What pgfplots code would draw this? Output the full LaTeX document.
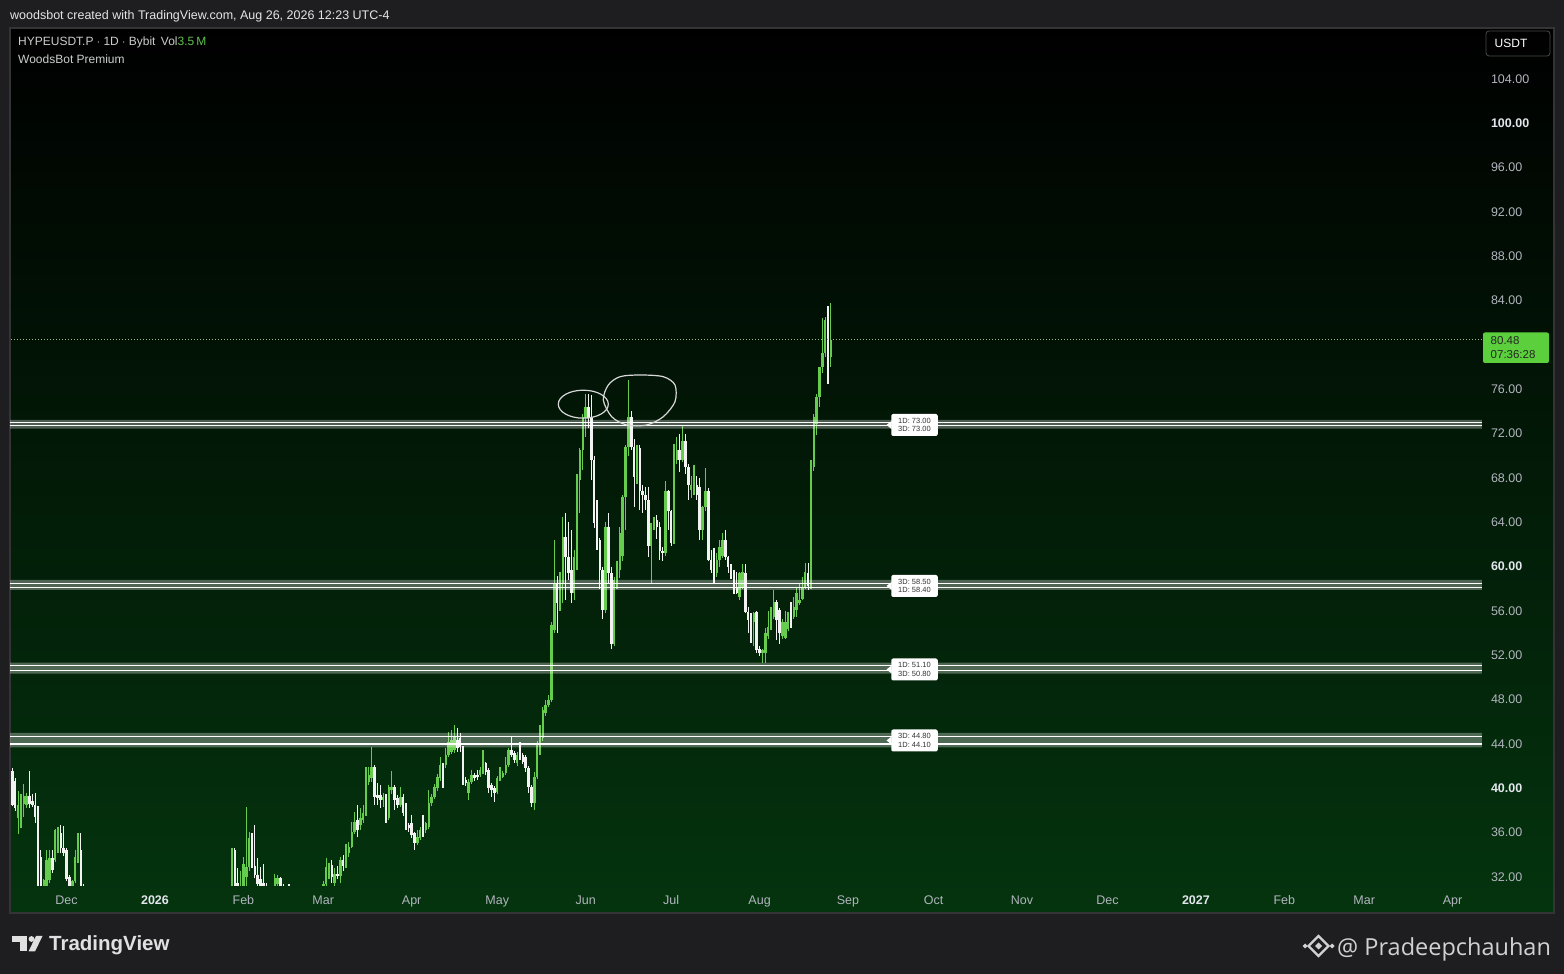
\documentclass[border=0pt]{standalone}
\usepackage{pgfplots}
\pgfplotsset{compat=1.18}
\usepackage{pgfplotstable}
\usepackage{fontspec}
\setmainfont{Liberation Sans}
\newfontfamily\opensans{Open Sans}

\definecolor{pagebg}{HTML}{1E1E20}
\definecolor{panelgreen}{HTML}{04340E}
\definecolor{upc}{HTML}{66CC4E}
\definecolor{downc}{HTML}{F2F2F2}
\definecolor{tickgray}{HTML}{B2B5BE}
\definecolor{tickbright}{HTML}{E3E6EC}
\definecolor{labelgreen}{HTML}{5CD03C}
\definecolor{volgreen}{HTML}{5FC04E}
\definecolor{dotline}{HTML}{8FBF8F}
\definecolor{frame}{HTML}{343436}
\definecolor{pen}{HTML}{D8D8D8}

% daily candles, d = days since 1 Jan 2026
\pgfplotstableread{
d o h l c
-50 41.6 41.8 38.4 38.5
-49 40.7 40.9 38.0 38.2
-48 37.3 39.8 35.9 38.5
-47 37.3 39.5 36.4 38.5
-46 38.6 40.4 37.4 39.3
-45 38.5 39.6 38.2 39.3
-44 39.3 41.6 38.2 38.6
-43 38.9 39.5 38.3 38.5
-42 38.5 39.6 36.9 37.4
-41 38.0 38.4 30.5 30.8
-40 33.8 34.4 30.0 30.5
-39 30.0 31.8 29.5 31.7
-38 30.5 34.4 30.0 33.5
-37 31.7 34.4 31.5 33.7
-36 33.7 34.4 32.4 32.6
-35 33.5 36.3 33.4 36.2
-34 34.4 36.5 34.2 36.2
-33 36.0 36.7 34.2 34.6
-32 34.6 36.6 33.9 34.2
-31 34.4 34.6 31.6 31.8
-30 32.0 32.2 30.5 31.0
-29 30.8 31.7 30.5 31.6
-28 31.6 34.4 31.5 33.8
-27 33.5 36.0 33.3 34.4
-26 34.4 36.0 30.5 31.0
-25 31.2 31.4 30.0 30.5
27 30.0 34.6 29.5 34.4
28 34.4 34.6 30.0 30.5
29 31.5 32.8 30.0 30.5
30 30.0 32.5 29.8 31.0
31 30.5 33.8 30.0 33.2
32 32.0 38.3 31.0 32.9
33 32.9 36.1 32.5 35.5
34 35.5 36.0 32.8 33.0
35 33.0 36.7 31.9 32.2
36 32.2 33.7 31.0 31.4
37 31.8 32.9 30.5 31.0
38 31.5 33.2 30.5 30.8
39 31.0 31.5 30.0 30.5
42 30.8 32.3 30.5 31.9
43 31.4 32.2 31.0 31.9
44 31.9 32.0 30.5 31.0
45 31.0 31.4 30.5 30.8
47 31.2 31.4 30.5 30.8
59 30.8 31.6 30.5 31.4
60 31.4 33.7 31.2 32.9
61 32.5 33.3 31.8 33.1
62 33.1 33.5 31.5 32.0
63 31.5 32.8 31.0 32.3
64 32.3 33.0 31.8 32.1
65 32.1 33.8 31.5 33.5
66 33.5 34.0 32.5 33.0
67 33.0 35.0 32.8 34.1
68 34.13 35.19 33.83 34.74
69 34.74 36.99 34.6 36.09
70 36.09 37.89 35.9 36.99
71 37.14 38.49 35.64 36.24
72 36.69 38.19 36.24 37.29
73 37.14 38.49 36.9 37.74
74 37.74 41.95 37.5 40.90
75 40.60 41.95 40.3 41.20
76 40.90 43.76 40.6 41.95
77 41.95 42.10 38.49 39.25
78 39.4 40.45 38.49 39.1
79 39.4 40.3 38.19 38.95
80 38.95 39.6 38.3 39.25
81 39.25 39.5 36.84 37.29
82 37.29 40.3 37.14 40.15
83 39.85 41.6 39.5 40.15
84 40.15 40.3 38.04 38.95
85 39.1 39.4 38.2 38.49
86 38.49 40.15 38.3 39.25
87 39.25 39.5 37.5 37.74
88 37.74 38.64 36.24 36.69
89 36.69 36.9 36.1 36.39
90 36.84 37.59 35.49 35.79
91 35.94 36.1 34.43 35.04
92 35.04 36.24 34.9 35.64
93 35.49 36.5 35.3 36.24
94 36.84 37.59 35.64 36.24
95 36.24 37.0 36.0 36.84
96 36.54 39.85 36.3 38.64
97 38.64 39.5 38.4 39.25
98 39.25 40.4 39.0 40.15
99 40.00 41.3 39.8 41.05
100 40.90 42.86 40.7 42.10
101 42.10 42.3 40.0 40.75
102 42.10 43.61 41.8 43.01
103 43.01 45.11 42.8 44.21
104 43.31 45.26 43.1 44.36
105 43.46 45.71 43.2 44.66
106 44.36 45.41 43.3 43.61
107 44.51 45.0 43.31 43.76
108 43.61 43.8 40.3 40.45
109 40.75 41.0 40.2 40.45
110 39.55 40.8 38.95 40.60
111 40.60 41.65 40.4 41.20
112 41.20 41.4 40.7 40.90
113 41.20 41.65 40.75 41.05
114 41.20 41.9 41.0 41.65
115 41.50 43.46 41.3 42.31
116 42.25 42.40 41.20 41.50
117 41.65 41.8 39.55 40.00
118 40.30 40.5 39.25 39.85
119 40.00 40.2 38.80 39.55
120 39.70 41.1 39.5 40.90
121 40.90 41.95 40.7 41.20
122 41.05 41.6 40.9 41.35
123 41.35 42.86 41.2 42.10
124 42.10 43.61 41.9 43.46
125 43.46 44.66 42.8 43.01
126 43.16 43.4 42.3 42.55
127 42.25 43.3 42.0 43.01
128 43.46 44.21 42.6 42.86
129 43.01 43.2 42.2 42.40
130 42.86 43.0 41.5 41.80
131 41.80 42.0 39.55 40.15
132 40.15 40.3 38.34 38.64
133 38.64 41.5 38.04 41.05
134 41.05 44.3 40.8 44.06
135 43.5 45.71 43.0 44.51
136 44.51 47.3 44.3 47.07
137 46.77 48.0 46.5 47.52
138 47.52 48.4 47.3 48.0
139 48.0 55.0 47.8 54.7
140 54.3 62.4 54.0 58.5
141 58.5 59.2 54.0 56.7
142 56.7 59.5 56.0 58.5
143 58.5 64.5 56.7 62.7
144 62.7 64.8 57.0 60.9
145 60.9 64.0 58.8 59.4
146 59.7 63.3 56.7 57.6
147 57.6 61.5 57.0 60.9
148 60.9 68.4 59.7 68.1
149 67.8 70.7 64.8 70.5
150 70.5 73.8 68.7 73.5
151 73.4 75.6 71.7 74.4
152 74.4 75.6 72.5 73.4
153 73.4 75.5 67.8 69.6
154 69.6 70.0 63.5 63.9
155 63.9 66.0 61.5 62.4
156 62.4 62.6 58.0 59.7
157 59.7 60.0 55.3 56.1
158 56.1 64.0 55.8 63.6
159 63.6 64.8 58.5 59.4
160 59.4 60.0 52.6 53.0
161 53.0 59.1 52.8 58.8
162 58.8 60.5 58.0 59.7
163 59.7 63.6 59.0 63.0
164 61.0 66.5 60.5 66.3
165 66.3 71.0 63.3 70.8
166 70.8 76.8 70.0 73.5
167 73.5 74.0 70.5 70.8
168 70.8 71.5 65.4 68.1
169 68.1 71.0 67.5 70.7
170 70.7 71.0 65.1 66.8
171 66.8 67.4 64.8 66.5
172 66.5 67.2 65.1 66.0
173 66.0 67.2 60.9 61.9
174 61.9 63.9 58.5 63.9
175 63.6 64.5 63.3 64.2
176 64.2 64.7 62.5 63.6
177 63.6 64.0 60.6 61.4
178 61.4 61.8 60.5 61.2
179 61.2 67.7 61.0 66.8
180 66.8 66.9 63.3 65.0
181 65.0 65.1 61.9 62.1
182 62.1 71.1 62.0 70.2
183 69.6 71.7 69.3 70.5
184 70.5 72.0 68.5 69.6
185 69.6 72.8 69.4 71.3
186 71.3 72.0 68.4 69.0
187 69.0 69.3 66.0 67.4
188 66.9 68.2 66.2 67.4
189 66.8 69.2 66.5 67.4
190 67.4 68.2 66.0 66.5
191 67.2 68.0 62.4 63.3
192 63.3 65.5 62.4 65.4
193 65.4 68.9 65.0 66.8
194 66.8 67.1 60.5 60.6
195 60.6 61.5 59.4 59.7
196 59.7 61.7 58.5 59.4
197 59.4 61.2 59.1 60.6
198 60.6 62.4 60.0 61.8
199 61.0 63.0 60.8 62.4
200 62.4 63.3 60.6 60.9
201 60.9 61.0 59.4 60.0
202 60.0 60.2 58.9 59.3
203 59.3 59.7 57.5 57.6
204 58.2 59.5 57.5 57.6
205 57.3 59.5 57.0 59.4
206 58.2 60.2 58.0 59.5
207 59.4 60.2 55.8 55.9
208 55.9 56.4 54.0 55.2
209 55.5 55.8 53.1 55.1
210 55.0 55.9 52.8 55.8
211 55.9 56.0 52.2 52.5
212 52.6 52.8 51.9 52.2
213 52.2 52.6 51.3 52.5
214 52.2 54.5 51.3 54.0
215 53.7 56.0 53.5 54.6
216 54.6 56.4 54.3 55.5
217 55.5 57.9 55.3 56.8
218 56.8 57.0 53.4 55.2
219 56.1 56.3 53.0 54.0
220 53.7 55.3 53.5 55.0
221 53.6 56.0 53.5 55.0
222 54.4 55.9 54.2 55.9
223 55.9 56.8 54.5 54.7
224 55.5 57.3 55.3 56.4
225 56.1 58.2 55.5 57.6
226 56.7 58.5 56.5 57.0
227 57.1 59.1 57.0 58.2
228 58.2 60.3 58.0 59.5
229 59.4 60.3 57.9 58.3
230 58.3 69.6 58.0 69.0
231 69.0 73.8 68.6 73.5
232 72.9 75.6 71.9 75.3
233 75.3 78.0 74.4 78.0
234 78.0 82.4 77.5 79.25
235 79.25 82.55 78.95 82.25
236 82.25 83.5 76.5 78.95
237 78.95 83.8 78.0 80.48
}\candles

\pgfplotsset{
  candle/.style n args={3}{only marks, mark=none, mark size=0pt, forget plot, color=#1,
    restrict expr to domain={#2}{#3},
    error bars/.cd, y dir=both, y explicit, error mark=none},
}

\begin{document}
\begin{tikzpicture}
\useasboundingbox (0pt,0pt) rectangle (1564pt,974pt);
\fill[pagebg] (0pt,0pt) rectangle (1564pt,974pt);
\shade[top color=black, bottom color=panelgreen] (10pt,61pt) rectangle (1554pt,946pt);
\draw[frame, line width=1.5pt] (10pt,61pt) rectangle (1554pt,946pt);

\begin{axis}[
  at={(10pt,88pt)}, anchor=south west,
  scale only axis, width=1472pt, height=858pt,
  xmin=-50.84, xmax=465.3, ymin=31.19, ymax=108.6,
  axis line style={draw=none},
  major tick length=0pt,
  xtick={-31,0,31,59,90,120,151,181,212,243,273,304,334,365,396,424,455},
  xticklabels={Dec,\textbf{\color{tickbright}2026},Feb,Mar,Apr,May,Jun,Jul,Aug,Sep,Oct,Nov,Dec,\textbf{\color{tickbright}2027},Feb,Mar,Apr},
  ytick={32,36,40,44,48,52,56,60,64,68,72,76,84,88,92,96,100,104},
  yticklabels={32.00,36.00,\textbf{\color{tickbright}40.00},44.00,48.00,52.00,56.00,\textbf{\color{tickbright}60.00},64.00,68.00,72.00,76.00,84.00,88.00,92.00,96.00,\textbf{\color{tickbright}100.00},104.00},
  yticklabel pos=right,
  tick label style={font=\fontsize{12.5}{14}\selectfont, text=tickgray},
  xticklabel style={yshift=-6pt},
  yticklabel style={anchor=west, xshift=5.5pt},
  /pgf/number format/assume math mode=true,
]
% wicks
\addplot[candle={upc}{\thisrow{c}-\thisrow{o}}{0:1000},
  error bar style={line width=1.15pt, draw=upc}]
  table[x=d, y expr={0.5*(\thisrow{h}+\thisrow{l})}, y error expr={0.5*(\thisrow{h}-\thisrow{l})}] {\candles};
\addplot[candle={downc}{\thisrow{o}-\thisrow{c}}{0.0001:1000},
  error bar style={line width=1.15pt, draw=downc}]
  table[x=d, y expr={0.5*(\thisrow{h}+\thisrow{l})}, y error expr={0.5*(\thisrow{h}-\thisrow{l})}] {\candles};
% bodies
\addplot[candle={upc}{\thisrow{c}-\thisrow{o}}{0:1000},
  error bar style={line width=2.5pt, draw=upc}]
  table[x=d, y expr={0.5*(\thisrow{o}+\thisrow{c})}, y error expr={max(0.5*abs(\thisrow{c}-\thisrow{o}),0.08)}] {\candles};
\addplot[candle={downc}{\thisrow{o}-\thisrow{c}}{0.0001:1000},
  error bar style={line width=2.5pt, draw=downc}]
  table[x=d, y expr={0.5*(\thisrow{o}+\thisrow{c})}, y error expr={max(0.5*abs(\thisrow{c}-\thisrow{o}),0.08)}] {\candles};

% support / resistance zones
\addplot[draw=none, fill=white, fill opacity=0.3, forget plot] coordinates {(-60,72.45) (470,72.45) (470,73.25) (-60,73.25) (-60,72.45)};
\addplot[white, line width=1.1pt, forget plot] coordinates {(-60,73.0) (470,73.0)};
\addplot[white, line width=1.1pt, forget plot] coordinates {(-60,72.7) (470,72.7)};
\addplot[draw=none, fill=white, fill opacity=0.3, forget plot] coordinates {(-60,57.9) (470,57.9) (470,58.8) (-60,58.8) (-60,57.9)};
\addplot[white, line width=1.1pt, forget plot] coordinates {(-60,58.5) (470,58.5)};
\addplot[white, line width=1.1pt, forget plot] coordinates {(-60,58.15) (470,58.15)};
\addplot[draw=none, fill=white, fill opacity=0.3, forget plot] coordinates {(-60,50.35) (470,50.35) (470,51.35) (-60,51.35) (-60,50.35)};
\addplot[white, line width=1.1pt, forget plot] coordinates {(-60,51.05) (470,51.05)};
\addplot[white, line width=1.1pt, forget plot] coordinates {(-60,50.6) (470,50.6)};
\addplot[draw=none, fill=white, fill opacity=0.3, forget plot] coordinates {(-60,43.7) (470,43.7) (470,45.0) (-60,45.0) (-60,43.7)};
\addplot[white, line width=1.1pt, forget plot] coordinates {(-60,44.66) (470,44.66)};
\addplot[white, line width=1.1pt, forget plot] coordinates {(-60,44.0) (470,44.0)};

% last price
\addplot[dotline, line width=1pt, dash pattern=on 1pt off 2pt, forget plot] coordinates {(-60,80.48) (470,80.48)};
\end{axis}

% zone labels
\tikzset{zlab/.style={fill=white, rounded corners=2pt, minimum width=46.5pt, minimum height=22pt,
  inner sep=1pt, align=center, text=black!80, font=\fontsize{7.5}{8.2}\selectfont}}
\foreach \yy/\ta/\tb in {549/1D: 73.00/3D: 73.00, 388/3D: 58.50/1D: 58.40, 304.5/1D: 51.10/3D: 50.80, 233.5/3D: 44.80/1D: 44.10}{
  \node[zlab] (z) at (914.5pt,\yy pt) {\ta\\\tb};
  \fill[white] ([xshift=0.5pt]z.west) ++(0,4pt) -- ++(-5pt,-4pt) -- ++(5pt,-4pt) -- cycle;
}

% hand-drawn marks around the tops
\draw[pen, line width=1.2pt] (583.3pt,569.8pt) ellipse [x radius=25pt, y radius=14pt];
\draw[pen, line width=1.2pt] plot[smooth cycle] coordinates {(603.3pt,574pt) (608.3pt,589pt) (620pt,597.3pt) (640pt,599pt) (663.3pt,597.3pt) (675pt,589pt) (675pt,572.3pt) (663.3pt,557.3pt) (646.7pt,549pt) (626.7pt,549pt) (611.7pt,557.3pt)};

% price label
\fill[labelgreen, rounded corners=2pt] (1483pt,611pt) rectangle (1549pt,641.5pt);
\node[anchor=west, inner sep=0pt, align=left, text=black!85, font=\fontsize{11.5}{13.5}\selectfont] at (1490.5pt,626.3pt) {80.48\\07:36:28};

% currency button
\draw[black!60!tickgray, rounded corners=3pt, line width=0.8pt] (1486pt,918pt) rectangle (1550pt,943pt);
\node[text=white, font=\fontsize{12}{13}\selectfont] at (1511pt,930.5pt) {USDT};

% header texts
\node[anchor=west, inner sep=0pt, text=white!90!black, font=\fontsize{12.5}{14}\selectfont] at (10pt,957.5pt)
  {woodsbot created with TradingView.com, Aug 26, 2026 12:23 UTC-4};
\node[anchor=west, inner sep=0pt, text=white!80!black, font=\fontsize{12}{14}\selectfont] at (18pt,931.5pt)
  {HYPEUSDT.P $\cdot$ 1D $\cdot$ Bybit\hspace{0.45em}Vol\textcolor{volgreen}{3.5\,M}};
\node[anchor=west, inner sep=0pt, text=white!80!black, font=\fontsize{12}{14}\selectfont] at (18pt,914.5pt)
  {WoodsBot Premium};

% TradingView logo
\fill[white!88!black] (12pt,32pt) rectangle (27pt,38pt);
\fill[white!88!black] (20pt,22.5pt) rectangle (27pt,38pt);
\fill[white!88!black] (31.5pt,35pt) circle (2.9pt);
\fill[white!88!black] (36pt,38pt) -- (42.5pt,38pt) -- (35pt,22.5pt) -- (28.5pt,22.5pt) -- cycle;
\node[anchor=base west, inner sep=0pt, text=white!88!black, font=\fontsize{20.5}{22}\selectfont\bfseries] at (49pt,23pt) {TradingView};

% watermark
\begin{scope}[white!82!black]
\draw[line width=2.4pt] (1318.5pt,38pt) -- (1328.5pt,28pt) -- (1318.5pt,18pt) -- (1308.5pt,28pt) -- cycle;
\fill (1318.5pt,31.5pt) -- (1322pt,28pt) -- (1318.5pt,24.5pt) -- (1315pt,28pt) -- cycle;
\fill (1305pt,30.5pt) -- (1307.5pt,28pt) -- (1305pt,25.5pt) -- (1302.5pt,28pt) -- cycle;
\fill (1332pt,30.5pt) -- (1334.5pt,28pt) -- (1332pt,25.5pt) -- (1329.5pt,28pt) -- cycle;
\end{scope}
\node[anchor=base west, inner sep=0pt, text=white!82!black, font=\opensans\fontsize{23.5}{25}\selectfont] at (1337pt,18pt) {@ Pradeepchauhan};
\end{tikzpicture}
\end{document}
